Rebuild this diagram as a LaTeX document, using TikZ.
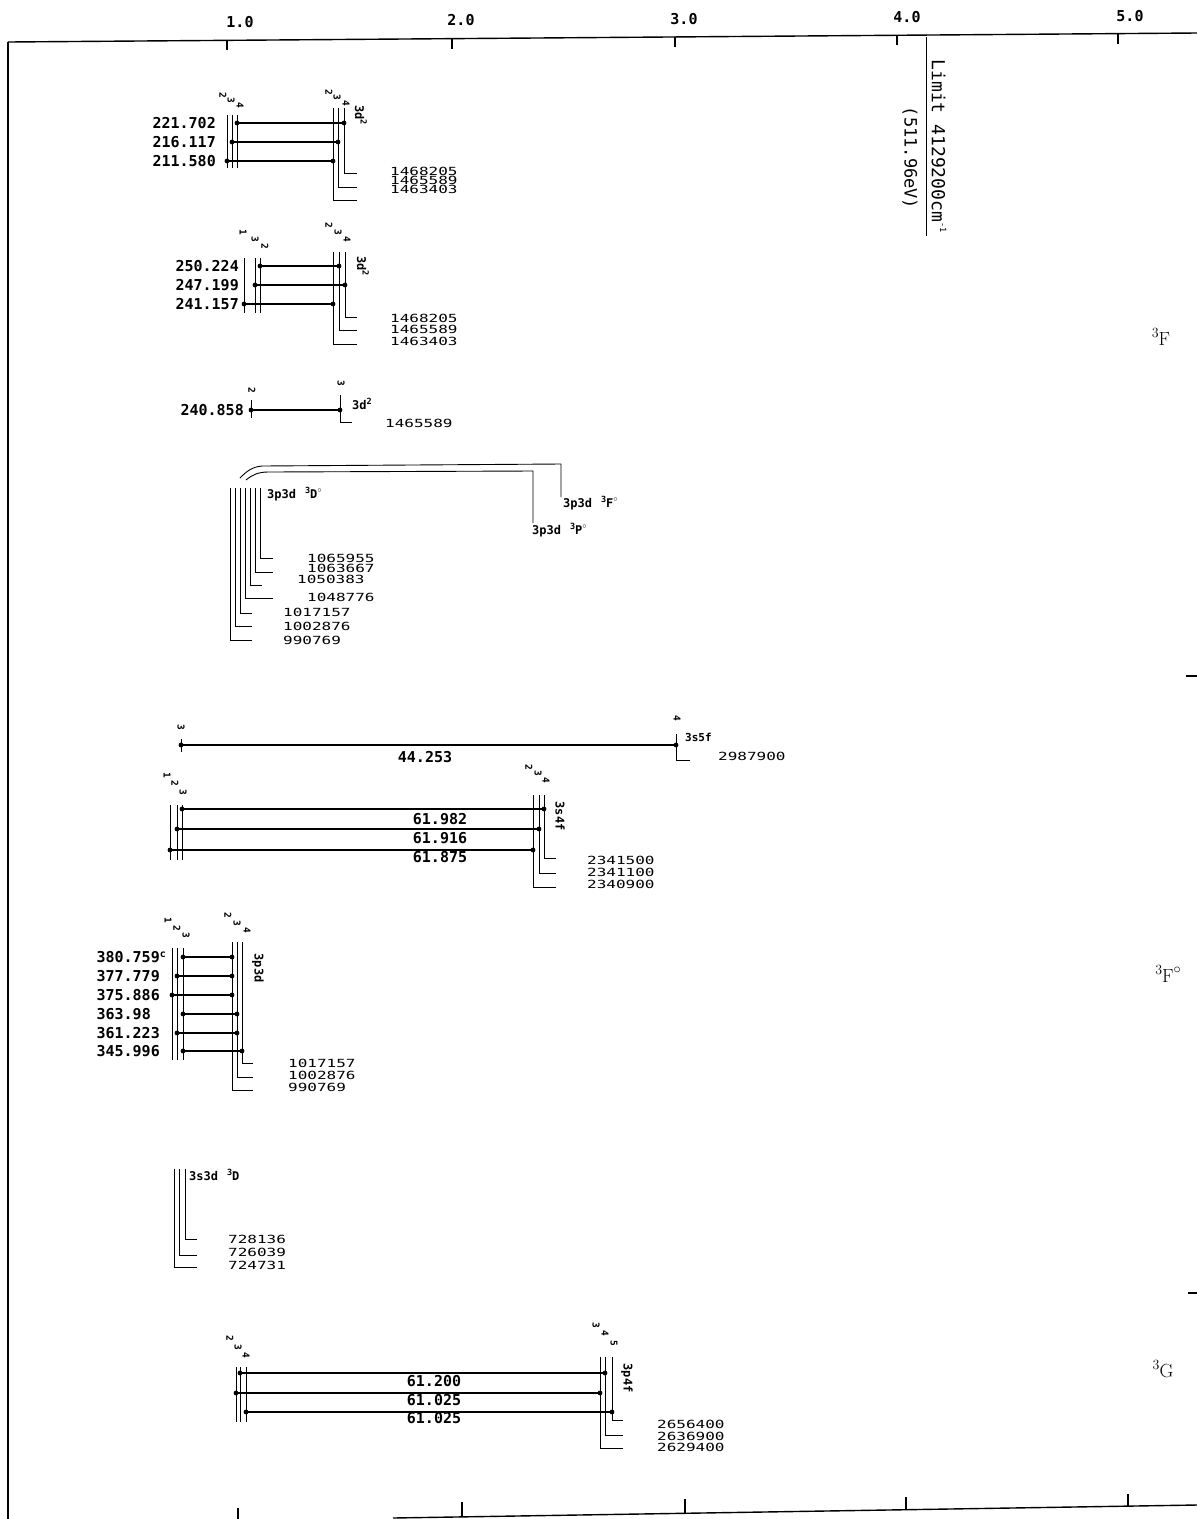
\documentclass[tikz,border=0pt]{standalone}
\usepackage{fontspec}
\usepackage{graphicx}
\newfontfamily\mono{DejaVu Sans Mono}
\newcommand\msup[1]{\raisebox{0.45em}{\fontsize{8.5}{8.5}\selectfont #1}}
\newcommand\mdeg{\raisebox{0.5em}{\fontsize{8}{8}\selectfont$\circ$}}
\newcommand\mylv[3]{\draw[lev] (#1,#2) -- (#1,#3);}
\newcommand\myhk[4]{\draw[lev] (#1,#2) -- (#1,#3) -- (#4,#3);}
\newcommand\mytr[3]{%
  \coordinate (tA) at (#1,#3); \coordinate (tB) at (#2,#3);
  \draw[tr] (tA) -- (tB); \fill (tA) circle (2.4pt); \fill (tB) circle (2.4pt);}
\begin{document}
\begin{tikzpicture}[x=1pt,y=-1pt,
  lev/.style={line width=0.9pt},
  tr/.style={line width=1.2pt},
  ax/.style={line width=1.4pt},
  lab/.style={font=\mono\bfseries\fontsize{15}{15}\selectfont, inner sep=0pt},
  stk/.style={font=\mono\fontsize{16}{16}\selectfont, inner sep=0pt, anchor=west, yscale=0.7},
  jl/.style={font=\mono\bfseries\fontsize{9.5}{9.5}\selectfont, inner sep=0pt, rotate=-90},
  cfg/.style={font=\mono\bfseries\fontsize{12}{12}\selectfont, inner sep=0pt, anchor=west},
  cfgr/.style={font=\mono\bfseries\fontsize{12}{12}\selectfont, inner sep=0pt, rotate=-90},
  term/.style={font=\fontsize{19}{19}\selectfont, inner sep=0pt},
]
\useasboundingbox (0,0) rectangle (1197,1519);
% ---------- axes ----------
\coordinate (TL) at (8,42); \coordinate (TR) at (1197,33);
\coordinate (BL) at (8,1519);
\draw[ax] (TL) -- (TR);
\draw[ax] (TL) -- (BL);
\draw[ax] (227,40.3) -- ++(0,10);
\draw[ax] (452,38.6) -- ++(0,10);
\draw[ax] (675,36.9) -- ++(0,10);
\draw[ax] (897,35.3) -- ++(0,10);
\draw[ax] (1118,33.6) -- ++(0,10);
\node[lab] (t1) at (240,22) {1.0};
\node[lab] (t2) at (461,20) {2.0};
\node[lab] (t3) at (684,19) {3.0};
\node[lab] (t4) at (907,17) {4.0};
\node[lab] (t5) at (1130,16) {5.0};
\coordinate (BA) at (393,1518); \coordinate (BB) at (1197,1505);
\draw[ax] (BA) -- (BB);
\draw[ax] (238,1519) -- ++(0,-11);
\draw[ax] (462,1517) -- ++(0,-15);
\draw[ax] (685,1513.3) -- ++(0,-14);
\draw[ax] (906,1509.7) -- ++(0,-13);
\draw[ax] (1128,1506.1) -- ++(0,-12);
\draw[ax] (1186,676) -- (1197,676);
\draw[ax] (1188,1293) -- (1197,1293);
% ---------- limit ----------
\draw[lev] (926,37) -- (926,236);
\node[rotate=-90, font=\mono\fontsize{18}{18}\selectfont, inner sep=0pt] (lim) at (939,146) {Limit 4129200cm\msup{-1}};
\node[rotate=-90, font=\mono\fontsize{17}{17}\selectfont, inner sep=0pt] (ev) at (910,158) {(511.96eV)};
% ---------- term labels ----------
\node[term] (T1) at (1161,337) {\raisebox{0.4em}{\fontsize{14}{14}\selectfont 3}F};
\node[term] (T2) at (1168,974) {\raisebox{0.4em}{\fontsize{14}{14}\selectfont 3}F\raisebox{0.45em}{\fontsize{14}{14}\selectfont$\circ$}};
\node[term] (T3) at (1163,1369) {\raisebox{0.4em}{\fontsize{14}{14}\selectfont 3}G};
% ---------- group 1 ----------
\mylv{227}{115}{168} \mylv{232}{115}{168} \mylv{237}{115}{168}
\node[jl] at (223,95) {2}; \node[jl] at (231,100) {3}; \node[jl] at (240,105) {4};
\myhk{344}{108}{173}{357} \myhk{338}{108}{187}{357} \myhk{333}{108}{200}{357}
\node[jl] at (329,92) {2}; \node[jl] at (337,97) {3}; \node[jl] at (346,103) {4};
\node[cfgr] at (361,115) {3d\msup{2}};
\mytr{237}{344}{123} \mytr{232}{338}{142} \mytr{227}{333}{161}
\node[lab,anchor=east] at (216,123) {221.702};
\node[lab,anchor=east] at (216,142) {216.117};
\node[lab,anchor=east] at (216,161) {211.580};
\node[stk] at (390,171) {1468205};
\node[stk] at (390,180) {1465589};
\node[stk] at (390,189) {1463403};
% ---------- group 2 ----------
\mylv{244}{258}{313} \mylv{255}{258}{313} \mylv{260}{258}{313}
\node[jl] at (243,232) {1}; \node[jl] at (255,239) {3}; \node[jl] at (265,246) {2};
\myhk{345}{252}{317}{357} \myhk{339}{252}{330}{357} \myhk{333}{252}{344}{357}
\node[jl] at (329,225) {2}; \node[jl] at (338,232) {3}; \node[jl] at (347,239) {4};
\node[cfgr] at (363,266) {3d\msup{2}};
\mytr{260}{339}{266} \mytr{255}{345}{285} \mytr{244}{333}{304}
\node[lab,anchor=east] at (239,266) {250.224};
\node[lab,anchor=east] at (239,285) {247.199};
\node[lab,anchor=east] at (239,304) {241.157};
\node[stk] at (390,318) {1468205};
\node[stk] at (390,329) {1465589};
\node[stk] at (390,341) {1463403};
% ---------- group 3 ----------
\mylv{251}{400}{418}
\node[jl] at (252,390) {2};
\myhk{340}{395}{422}{352}
\node[jl] at (341,383) {3};
\node[cfg] at (352,404) {3d\msup{2}};
\mytr{251}{340}{410}
\node[lab,anchor=east] at (244,410) {240.858};
\node[stk] at (385,423) {1465589};
% ---------- group 4 ----------
\myhk{260}{488}{558}{273}
\myhk{255}{488}{572}{273}
\myhk{250}{488}{585}{262}
\myhk{245}{488}{598}{273}
\myhk{240}{488}{613}{252}
\myhk{235}{488}{626}{252}
\myhk{230}{488}{640}{252}
\node[stk] at (307,558) {1065955};
\node[stk] at (307,568) {1063667};
\node[stk] at (297,579) {1050383};
\node[stk] at (307,597) {1048776};
\node[stk] at (283,612) {1017157};
\node[stk] at (283,626) {1002876};
\node[stk] at (283,640) {990769};
\node[cfg] (cD) at (267,494) {3p3d\hspace{9pt}\msup{3}D\mdeg};
\node[cfg] (cF) at (563,503) {3p3d\hspace{9pt}\msup{3}F\mdeg};
\node[cfg] (cP) at (532,530) {3p3d\hspace{9pt}\msup{3}P\mdeg};
\draw[lev] (240,478) .. controls (247,471) and (252,467) .. (262,466) -- (561,464) -- (561,497);
\draw[lev] (246,480) .. controls (252,475) and (258,472) .. (268,472) -- (533,471) -- (533,523);
% ---------- group 5 ----------
\mylv{181}{739}{752}
\node[jl] at (181,727) {3};
\mytr{181}{676}{745}
\myhk{676}{734}{760}{690}
\node[jl] at (677,718) {4};
\node[cfg,font=\mono\bfseries\fontsize{11}{11}\selectfont] at (685,737) {3s5f};
\node[stk] at (718,756) {2987900};
\node[lab] at (425,757) {44.253};
% ---------- group 6 ----------
\mylv{170}{805}{860} \mylv{177}{805}{860} \mylv{182}{805}{860}
\node[jl] at (167,775) {1}; \node[jl] at (175,783) {2}; \node[jl] at (183,792) {3};
\myhk{544}{795}{858}{556} \myhk{539}{795}{873}{556} \myhk{533}{795}{887}{556}
\node[jl] at (529,767) {2}; \node[jl] at (538,773) {3}; \node[jl] at (546,780) {4};
\node[cfgr] at (560,816) {3s4f};
\mytr{182}{544}{809} \mytr{177}{539}{829} \mytr{170}{533}{850}
\node[lab] at (440,819) {61.982};
\node[lab] at (440,838) {61.916};
\node[lab] at (440,857) {61.875};
\node[stk] at (587,860) {2341500};
\node[stk] at (587,872) {2341100};
\node[stk] at (587,884) {2340900};
% ---------- group 7 ----------
\mylv{172}{948}{1060} \mylv{177}{948}{1060} \mylv{183}{948}{1060}
\node[jl] at (168,920) {1}; \node[jl] at (177,928) {2}; \node[jl] at (186,935) {3};
\myhk{242}{942}{1063}{253} \myhk{237}{942}{1077}{253} \myhk{232}{942}{1090}{253}
\node[jl] at (228,915) {2}; \node[jl] at (237,923) {3}; \node[jl] at (247,930) {4};
\node[cfgr] at (258,968) {3p3d};
\mytr{183}{232}{957} \mytr{177}{232}{976} \mytr{172}{232}{995}
\mytr{183}{237}{1014} \mytr{177}{237}{1033} \mytr{183}{242}{1051}
\node[lab,anchor=east] at (160,957) {380.759\rlap{\fontsize{10}{10}\selectfont\raisebox{5pt}{c}}};
\node[lab,anchor=east] at (160,976) {377.779};
\node[lab,anchor=east] at (160,995) {375.886};
\node[lab,anchor=east] at (151,1014) {363.98};
\node[lab,anchor=east] at (160,1033) {361.223};
\node[lab,anchor=east] at (160,1051) {345.996};
\node[stk] at (288,1063) {1017157};
\node[stk] at (288,1075) {1002876};
\node[stk] at (288,1087) {990769};
% ---------- group 8 ----------
\myhk{185}{1169}{1239}{197} \myhk{179}{1169}{1255}{197} \myhk{174}{1169}{1267}{197}
\node[cfg] at (189,1175) {3s3d\hspace{9pt}\msup{3}D};
\node[stk] at (228,1239) {728136};
\node[stk] at (228,1252) {726039};
\node[stk] at (228,1265) {724731};
% ---------- group 9 ----------
\mylv{236}{1367}{1422} \mylv{240}{1367}{1422} \mylv{246}{1367}{1422}
\node[jl] at (230,1338) {2}; \node[jl] at (238,1347) {3}; \node[jl] at (246,1355) {4};
\myhk{612}{1357}{1420}{623} \myhk{605}{1357}{1435}{623} \myhk{600}{1357}{1448}{623}
\node[jl] at (596,1325) {3}; \node[jl] at (605,1333) {4}; \node[jl] at (614,1343) {5};
\node[cfgr] at (627,1378) {3p4f};
\mytr{240}{605}{1373} \mytr{236}{600}{1393} \mytr{246}{612}{1412}
\node[lab] at (434,1381) {61.200};
\node[lab] at (434,1400) {61.025};
\node[lab] at (434,1418) {61.025};
\node[stk] at (657,1424) {2656400};
\node[stk] at (657,1436) {2636900};
\node[stk] at (657,1447) {2629400};
\end{tikzpicture}
\end{document}
